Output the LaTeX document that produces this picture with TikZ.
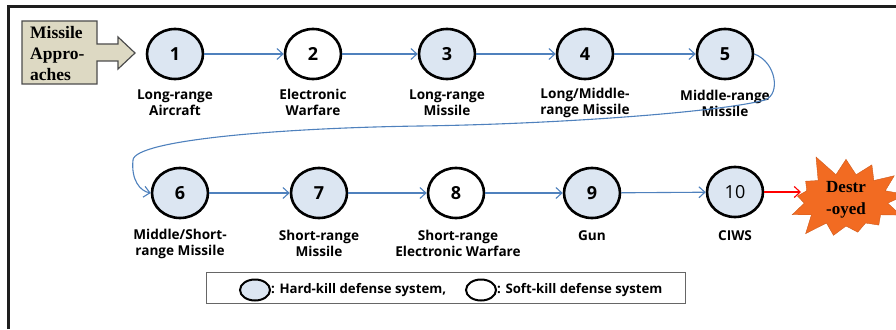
\documentclass[tikz,border=0pt]{standalone}
\usepackage{fontspec}
\setmainfont{Open Sans}
\newfontfamily\serifbold{Liberation Serif}
\usetikzlibrary{arrows.meta,shapes.geometric,shapes.symbols}

\definecolor{hardfill}{HTML}{DCE6F2}
\definecolor{flowblue}{HTML}{4F81BD}
\definecolor{tanfill}{HTML}{DDD9C3}
\definecolor{burstfill}{HTML}{F26B22}
\definecolor{framegray}{HTML}{1E1E1E}

\begin{document}
\begin{tikzpicture}[x=1pt,y=-1pt,
  stage/.style={ellipse, draw=black, line width=2.6pt, minimum width=56pt,
    minimum height=50pt, inner sep=0pt, font=\fontsize{18}{20}\selectfont\bfseries},
  hard/.style={stage, fill=hardfill},
  soft/.style={stage, fill=white},
  caption/.style={align=center, inner sep=0pt,
    font=\fontsize{13.6}{16}\selectfont\bfseries},
  flow/.style={-{Straight Barb[length=6pt,width=11pt]}, flowblue, line width=1.1pt},
  keymark/.style={ellipse, draw=black, line width=2pt, minimum width=30pt,
    minimum height=21pt, inner sep=0pt},
  keytext/.style={anchor=west, inner sep=0pt, font=\fontsize{13.2}{16}\selectfont\bfseries},
]
\useasboundingbox (0,0) rectangle (896,329);

% outer frame (top and left edges)
\draw[framegray, line width=3pt] (8,329) -- (8,7) -- (896,7);

% incoming missile callout
\draw[fill=tanfill, draw=black!70, line width=1.2pt]
  (22,21) -- (97,21) -- (97,44) -- (118,44) -- (118,37) -- (135,53)
  -- (118,69) -- (118,61) -- (97,61) -- (97,84) -- (22,84) -- cycle;
\node[anchor=west, align=left, inner sep=0pt,
  font=\serifbold\bfseries\fontsize{17.5}{21}\selectfont] (start) at (30,54)
  {Missile\\Appro-\\aches};

% defence layers, first row
\node[hard] (c1) at (175,54) {1};
\node[soft] (c2) at (313,54) {2};
\node[hard] (c3) at (447,54) {3};
\node[hard] (c4) at (585,54) {4};
\node[hard] (c5) at (725,54) {5};

% defence layers, second row
\node[hard] (c6) at (180,193) {6};
\node[hard] (c7) at (319,193) {7};
\node[soft] (c8) at (456,193) {8};
\node[hard] (c9) at (592,193) {9};
\node[hard, font=\fontsize{18}{20}\selectfont] (c10) at (735,192) {10};

% captions
\node[caption] (t1) at (175,103) {Long-range\\Aircraft};
\node[caption] (t2) at (313,102) {Electronic\\Warfare};
\node[caption] (t3) at (447,103) {Long-range\\Missile};
\node[caption] (t4) at (585,103) {Long/Middle-\\range Missile};
\node[caption] (t5) at (725,103) {Middle-range\\Missile};
\node[caption] (t6) at (180,244) {Middle/Short-\\range Missile};
\node[caption] (t7) at (319,243) {Short-range\\Missile};
\node[caption] (t8) at (458,243) {Short-range\\Electronic Warfare};
\node[caption] (t9) at (592,236) {Gun};
\node[caption] (t10) at (735,236) {CIWS};

% outcome
\node[starburst, starburst points=13, starburst point height=24pt,
  random starburst=5, fill=burstfill, draw=burstfill!85!black, line width=0.4pt,
  minimum width=132pt, minimum height=92pt, inner sep=0pt, align=center,
  font=\serifbold\bfseries\fontsize{17}{22}\selectfont] (done) at (846,200)
  {Destr\\-oyed};

% flow between layers
\draw[flow] (c1) -- (c2);
\draw[flow] (c2) -- (c3);
\draw[flow] (c3) -- (c4);
\draw[flow] (c4) -- (c5);
\draw[flow] (c5.east) .. controls (776,62) and (781,94) .. (765,100)
  .. controls (720,112) and (560,124) .. (420,126)
  .. controls (280,128) and (135,140) .. (133,160)
  .. controls (131,180) and (140,191) .. (c6.west);
\draw[flow] (c6) -- (c7);
\draw[flow] (c7) -- (c8);
\draw[flow] (c8) -- (c9);
\draw[flow] (c9) -- (c10);
\draw[flow, red] (c10.east) -- (c10.east -| done.west);

% legend
\node[draw=black!60, line width=0.8pt, minimum width=479pt, minimum height=31pt,
  inner sep=0pt] (legend) at (445.5,287.5) {};
\node[keymark, fill=hardfill] (khard) at (255,290) {};
\node[keytext] (lhard) at (khard.east) {: Hard-kill defense system,};
\node[keymark, fill=white] (ksoft) at (481,290) {};
\node[keytext] (lsoft) at (ksoft.east) {: Soft-kill defense system};
\end{tikzpicture}
\end{document}
